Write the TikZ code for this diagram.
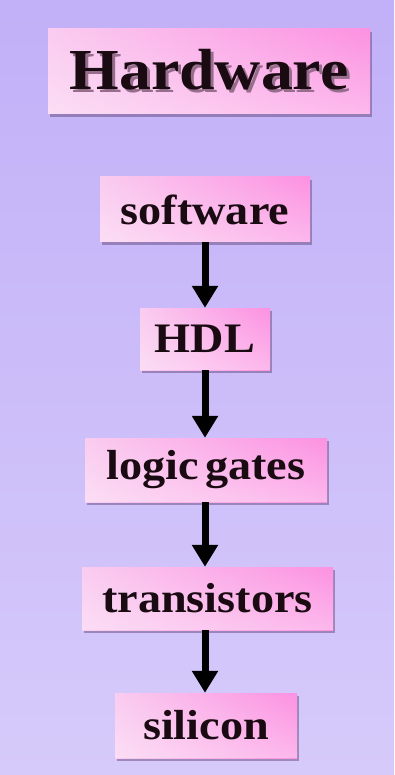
\documentclass[tikz,border=0pt]{standalone}
\usepackage{fontspec}
\setmainfont{Liberation Serif}[FakeStretch=1.1]
\usetikzlibrary{arrows.meta,shadows,fadings}
\definecolor{bgtop}{RGB}{194,176,248}
\definecolor{bgbot}{RGB}{214,202,250}
\definecolor{boxL}{RGB}{250,204,240}
\definecolor{boxR}{RGB}{252,146,226}
\definecolor{ink}{RGB}{26,10,18}
\definecolor{shade}{RGB}{90,60,110}
\definecolor{textshade}{RGB}{150,110,140}
\tikzset{
  stepbox/.style={
    rectangle, inner sep=0pt, left color=boxL, right color=boxR,
    text=ink, font=\bfseries\fontsize{42}{46}\selectfont,
    drop shadow={shadow xshift=1.5pt, shadow yshift=-3pt, opacity=0.45, fill=shade},
    postaction={fill=white, opacity=0.35, path fading=north}
  },
  flow/.style={line width=7pt, draw=black,
    -{Triangle[width=25pt,length=22pt]}}
}
% title text with an offset shadow copy behind it
\newcommand{\shadowedtitle}[1]{%
  \rlap{\kern3pt\raisebox{-3pt}{\textcolor{textshade}{#1}}}#1}
\begin{document}
\begin{tikzpicture}[x=1pt, y=-1pt]
  % backdrop
  \shade[top color=bgtop, bottom color=bgbot] (0,0) rectangle (394,775);
  \useasboundingbox (0,0) rectangle (394,775);

  % title box
  \node[stepbox, minimum width=322pt, minimum height=85pt,
        font=\bfseries\fontsize{58}{62}\selectfont] (hw) at (209,71.5)
        {\shadowedtitle{Hardware}};

  % chain of levels
  \node[stepbox, minimum width=210pt, minimum height=65pt] (sw) at (205,209.5) {software};
  \node[stepbox, minimum width=130pt, minimum height=62pt] (hdl) at (205,339) {HDL};
  \node[stepbox, minimum width=242pt, minimum height=64pt] (lg) at (206,470) {logic\hspace{0.14em}gates};
  \node[stepbox, minimum width=251pt, minimum height=63pt] (tr) at (207.5,598.5) {transistors};
  \node[stepbox, minimum width=182pt, minimum height=65pt] (si) at (206,725.5) {silicon};

  % arrows between levels
  \draw[flow] (sw.south -| 205,0) -- (hdl.north -| 205,0);
  \draw[flow] (hdl.south -| 205,0) -- (lg.north -| 205,0);
  \draw[flow] (lg.south -| 205,0) -- (tr.north -| 205,0);
  \draw[flow] (tr.south -| 205,0) -- (si.north -| 205,0);
\end{tikzpicture}
\end{document}
